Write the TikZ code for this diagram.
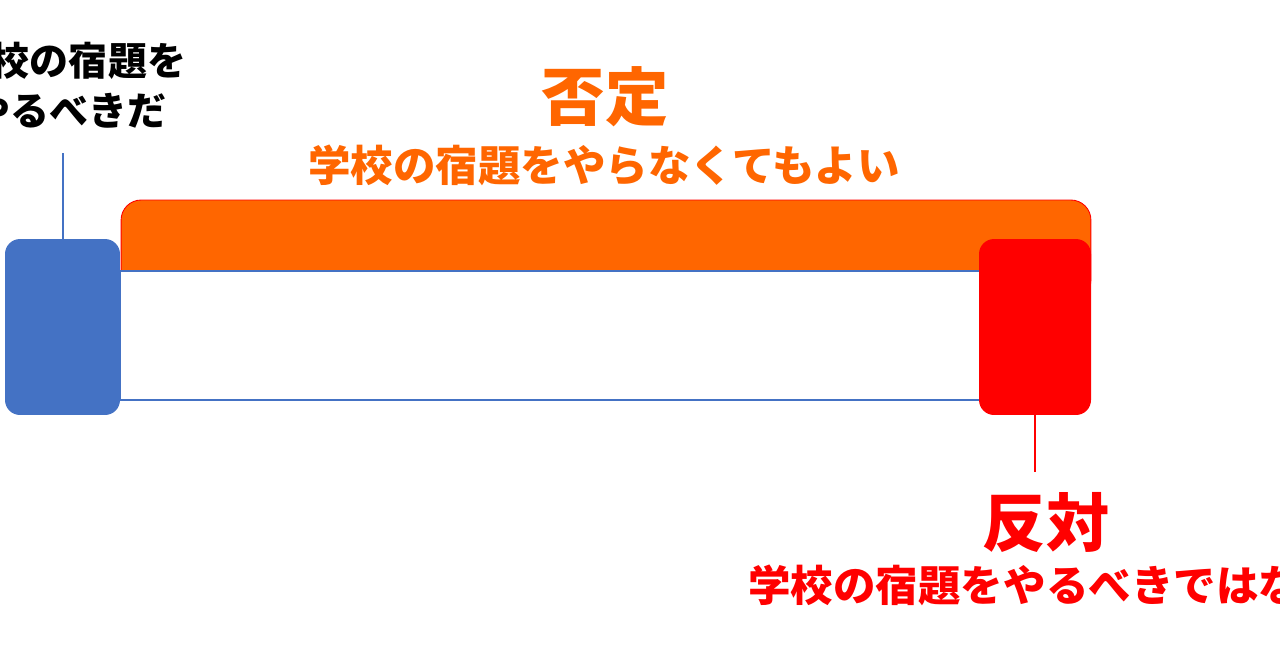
\documentclass[tikz,border=0pt]{standalone}
\usepackage{fontspec}
\usepackage{xcolor}
\usepackage{tikz}
\usetikzlibrary{positioning}
\newfontfamily\jpfont{Noto Sans CJK JP}
\definecolor{problue}{HTML}{4472C4}
\definecolor{negorange}{HTML}{FF6600}
\definecolor{conred}{HTML}{FF0000}
\tikzset{
  block/.style={rounded corners=0.3cm, minimum width=#1, minimum height=3.52cm, inner sep=0pt},
  problock/.style={block=2.3cm, fill=problue},
  conblock/.style={block=2.24cm, fill=conred},
  negbar/.style={fill=negorange, draw=conred, line width=0.5pt, rounded corners=0.4cm,
    minimum width=19.4cm, minimum height=2cm, inner sep=0pt},
  spanbox/.style={fill=white, draw=problue, line width=0.6pt, minimum width=17.2cm,
    minimum height=2.58cm, inner sep=0pt},
  pline/.style={draw=problue, line width=0.8pt},
  cline/.style={draw=conred, line width=0.8pt},
  titletxt/.style={font=\jpfont\bfseries\fontsize{36}{40}\selectfont, inner sep=0pt},
  subtxt/.style={font=\jpfont\bfseries\fontsize{24.2}{28}\selectfont, inner sep=0pt},
  prolbl/.style={font=\jpfont\bfseries\fontsize{22.2}{28.5}\selectfont, align=center, inner sep=0pt}
}
\begin{document}
\begin{tikzpicture}[x=0.02cm, y=-0.02cm]
  \clip (0,0) rectangle (1280,670);
  \fill[white] (0,0) rectangle (1280,670);

  \node[negbar] (neg) at (606,250) {};
  \node[spanbox] (span) at (550,335.5) {};
  \node[problock] (pro) at (62.5,327) {};
  \node[conblock] (con) at (1035,327) {};

  \coordinate (protop) at (63,153);
  \coordinate (conbot) at (1035,472);
  \draw[pline] (pro.north -| protop) -- (protop);
  \draw[cline] (con.south) -- (conbot);

  \node[prolbl] (prolabel) at (69,85) {学校の宿題を\\やるべきだ};
  \node[titletxt, text=negorange] (negtitle) at (605,97) {否定};
  \node[subtxt, text=negorange] (negsub) at (604,165) {学校の宿題をやらなくてもよい};
  \node[titletxt, text=conred] (contitle) at (1046,522) {反対};
  \node[subtxt, text=conred] (consub) at (1046,585) {学校の宿題をやるべきではない};
\end{tikzpicture}
\end{document}
